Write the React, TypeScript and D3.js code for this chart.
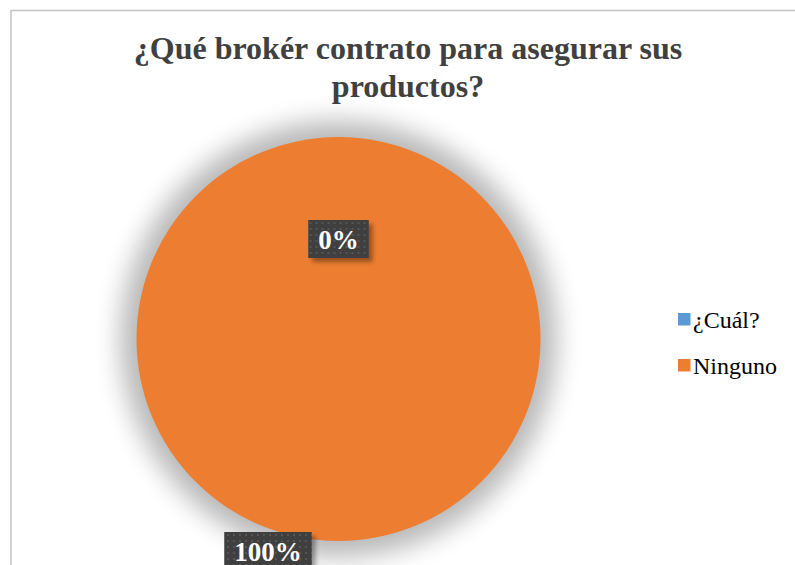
import { useRef, useEffect } from "react";
import * as d3 from "d3";

const categories = ["¿Cuál?", "Ninguno"];
const values = [0, 100];
const colors = ["#5B9BD5", "#ED7D31"];
const titleLines = ["¿Qué brokér contrato para asegurar sus", "productos?"];

export default function App() {
  const ref = useRef<SVGSVGElement>(null);

  useEffect(() => {
    if (!ref.current) return;
    const svg = d3.select(ref.current);
    svg.selectAll("*").remove();
    const width = 795;
    const height = 565;
    const cx = 338.5;
    const cy = 339;
    const r = 202;
    const serif = "'Liberation Serif','Times New Roman',serif";

    const defs = svg.append("defs");
    const blur = defs.append("filter").attr("id", "pieShadow").attr("x", "-30%").attr("y", "-30%").attr("width", "160%").attr("height", "160%");
    blur.append("feGaussianBlur").attr("stdDeviation", 13);
    const lblBlur = defs.append("filter").attr("id", "lblShadow").attr("x", "-30%").attr("y", "-30%").attr("width", "160%").attr("height", "160%");
    lblBlur.append("feGaussianBlur").attr("stdDeviation", 2);
    const pat = defs.append("pattern").attr("id", "dots").attr("width", 6).attr("height", 6).attr("patternUnits", "userSpaceOnUse");
    pat.append("rect").attr("width", 6).attr("height", 6).attr("fill", "#3f3f3f");
    pat.append("rect").attr("x", 1).attr("y", 1).attr("width", 2).attr("height", 2).attr("fill", "#555");

    svg.append("rect").attr("x", 0).attr("y", 0).attr("width", width).attr("height", height).attr("fill", "#fff");
    svg.append("rect").attr("x", 11).attr("y", 10.5).attr("width", width + 20).attr("height", height + 20)
      .attr("fill", "#fff").attr("stroke", "#c4c4c4").attr("stroke-width", 1.5);

    // title
    svg.append("g").selectAll("text").data(titleLines).enter().append("text")
      .attr("x", 408).attr("y", (_, i) => 59 + i * 38)
      .attr("text-anchor", "middle").attr("font-family", serif).attr("font-weight", "bold")
      .attr("font-size", "32px").attr("fill", "#404040").text(d => d);

    // soft shadow behind the pie
    svg.append("circle").attr("cx", cx).attr("cy", cy).attr("r", r + 16)
      .attr("fill", "#000").attr("opacity", 0.28).attr("filter", "url(#pieShadow)");

    const pie = d3.pie<number>().sort(null).value(d => d);
    const arcs = pie(values);
    const arc = d3.arc<d3.PieArcDatum<number>>().innerRadius(0).outerRadius(r);
    const g = svg.append("g").attr("transform", `translate(${cx},${cy})`);
    g.selectAll("path").data(arcs).enter().append("path")
      .attr("d", arc).attr("fill", (_, i) => colors[i]);

    // data labels
    const total = d3.sum(values);
    const labelPos = [
      [0, -100],
      [-70.5, r + 10],
    ];
    arcs.forEach((a, i) => {
      const txt = `${Math.round((a.data / total) * 100)}%`;
      const [lx, ly] = labelPos[i];
      const lg = g.append("g").attr("transform", `translate(${lx},${ly})`);
      const shadow = lg.append("rect").attr("fill", "#000").attr("opacity", 0.35).attr("filter", "url(#lblShadow)");
      const box = lg.append("rect").attr("fill", "url(#dots)");
      const t = lg.append("text").attr("x", 0).attr("y", 9.5).attr("text-anchor", "middle")
        .attr("font-family", serif).attr("font-weight", "bold").attr("font-size", "27px").attr("fill", "#fff").text(txt);
      const w = (t.node() as SVGTextElement).getComputedTextLength() + 20;
      const h = 38;
      shadow.attr("x", -w / 2 + 4).attr("y", -h / 2 + 4).attr("width", w).attr("height", h);
      box.attr("x", -w / 2).attr("y", -h / 2).attr("width", w).attr("height", h);
    });

    // legend
    const leg = svg.append("g").attr("transform", "translate(678,319)");
    const row = leg.selectAll("g").data(categories).enter().append("g").attr("transform", (_, i) => `translate(0,${i * 46})`);
    row.append("rect").attr("x", 0).attr("y", -6).attr("width", 12.5).attr("height", 12.5).attr("fill", (_, i) => colors[i]);
    row.append("text").attr("x", 15).attr("y", 9).attr("font-family", serif).attr("font-size", "24px").attr("fill", "#000").text(d => d);
  }, []);

  return <svg ref={ref} width={795} height={565} style={{ position: "absolute", left: 0, top: 0 }} />;
}
